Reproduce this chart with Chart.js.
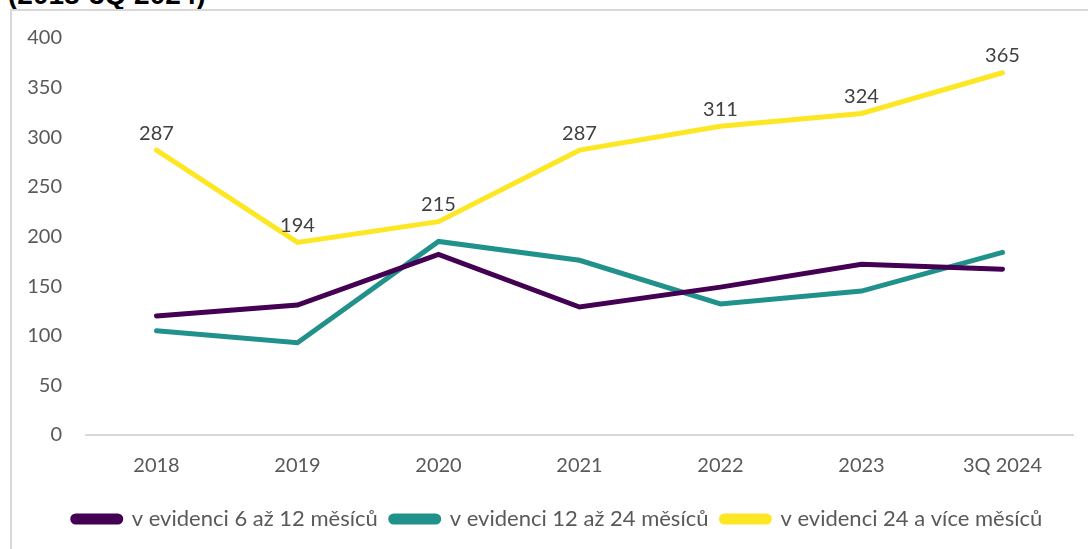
<!DOCTYPE html>
<html>
<head>
    <title>Evidence</title>
    <script src="https://cdn.jsdelivr.net/npm/chart.js"></script>
    <style>
        body { margin: 0; background: #fff; width: 1088px; height: 549px; overflow: hidden; position: relative; }
        #titulek { position: absolute; left: 8px; top: -19px; font: bold 28px/28px "Liberation Sans", Arial, sans-serif; color: #000; white-space: nowrap; }
        #ramecek { position: absolute; left: 10px; top: 9px; width: 1100px; height: 560px; border: 2px solid #d9d9d9; box-sizing: border-box; }
        #wrap { position: absolute; left: 0; top: 0; width: 1088px; height: 549px; }
    </style>
</head>
<body>
    <div id="titulek">(2018-3Q 2024)</div>
    <div id="ramecek"></div>
    <div id="wrap"><canvas id="myChart"></canvas></div>

    <script>
        var roky = ['2018', '2019', '2020', '2021', '2022', '2023', '3Q 2024'];
        var evidence6az12 = [120, 131, 182, 129, 149, 172, 167];
        var evidence12az24 = [105, 93, 195, 176, 132, 145, 184];
        var evidence24aVice = [287, 194, 215, 287, 311, 324, 365];
        var yTicks = [0, 50, 100, 150, 200, 250, 300, 350, 400];

        var pismo = "Lato, 'Open Sans', sans-serif";

        // popisky hodnot jen u zlute rady
        var popisky = {
            id: 'popisky',
            afterLayout: function (chart) {
                // legenda je v originale trochu vpravo
                chart.legend.left += 16;
                chart.legend.right += 16;
            },
            afterDatasetsDraw: function (chart) {
                var ctx = chart.ctx;
                var meta = chart.getDatasetMeta(2);
                ctx.save();
                ctx.font = '20px ' + pismo;
                ctx.fillStyle = '#404040';
                ctx.textAlign = 'center';
                ctx.textBaseline = 'middle';
                meta.data.forEach(function (p, i) {
                    ctx.fillText(evidence24aVice[i], p.x, p.y - 17);
                });
                ctx.restore();
            }
        };

        var ctx = document.getElementById('myChart').getContext('2d');
        var myChart = new Chart(ctx, {
            type: 'line',
            data: {
                labels: roky,
                datasets: [{
                    label: 'v evidenci 6 až 12 měsíců',
                    data: evidence6az12,
                    borderColor: '#440154',
                    backgroundColor: '#440154'
                },
                {
                    label: 'v evidenci 12 až 24 měsíců',
                    data: evidence12az24,
                    borderColor: '#21918c',
                    backgroundColor: '#21918c'
                },
                {
                    label: 'v evidenci 24 a více měsíců',
                    data: evidence24aVice,
                    borderColor: '#fde725',
                    backgroundColor: '#fde725'
                }]
            },
            options: {
                responsive: true,
                maintainAspectRatio: false,
                animation: false,
                elements: {
                    line: { borderWidth: 5, tension: 0, borderCapStyle: 'round', borderJoinStyle: 'miter' },
                    point: { radius: 0, hoverRadius: 0 }
                },
                layout: { padding: { left: 10, right: 15, top: 38, bottom: 9 } },
                scales: {
                    x: {
                        offset: true,
                        grid: { display: false, drawTicks: false },
                        border: { display: true, color: '#d9d9d9', width: 2 },
                        ticks: { color: '#595959', font: { family: pismo, size: 20 }, padding: 19, maxRotation: 0 },
                        afterFit: function (s) { s.height = 60; }
                    },
                    y: {
                        min: 0,
                        max: 400,
                        afterBuildTicks: function (s) { s.ticks = yTicks.map(function (v) { return { value: v }; }); },
                        grid: { display: false, drawTicks: false },
                        border: { display: false },
                        ticks: { color: '#595959', font: { family: pismo, size: 20 }, padding: 24 },
                        afterFit: function (s) { s.width = 76; }
                    }
                },
                plugins: {
                    legend: {
                        position: 'bottom',
                        labels: {
                            color: '#595959',
                            font: { family: pismo, size: 22 },
                            boxWidth: 48,
                            boxHeight: 6,
                            useBorderRadius: true,
                            borderRadius: 3,
                            padding: 13
                        }
                    },
                    tooltip: { enabled: false }
                }
            },
            plugins: [popisky]
        });
    </script>
</body>
</html>
